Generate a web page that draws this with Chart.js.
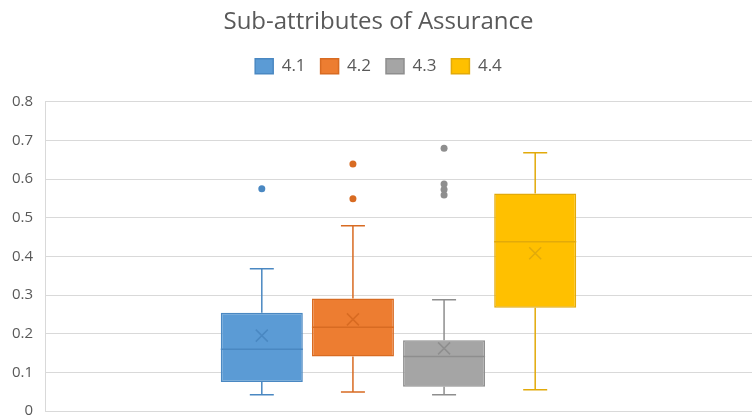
<!DOCTYPE html>
<html>
<head>
<meta charset="utf-8">
<script src="https://cdn.jsdelivr.net/npm/chart.js@4"></script>
<style>
  html, body { margin: 0; padding: 0; background: #fff; }
  #wrap { width: 754px; height: 419px; }
</style>
</head>
<body>
<div id="wrap"><canvas id="box-chart"></canvas></div>
<script>
// data
const categories = [''];
const seriesNames = ['4.1', '4.2', '4.3', '4.4'];
const minVals = [0.042, 0.049, 0.042, 0.055];
const q1Vals = [0.075, 0.141, 0.063, 0.267];
const medianVals = [0.160, 0.217, 0.141, 0.438];
const q3Vals = [0.254, 0.291, 0.183, 0.563];
const maxVals = [0.368, 0.479, 0.288, 0.668];
const meanVals = [0.195, 0.237, 0.162, 0.408];
const outlierVals = [[0.575], [0.639, 0.549], [0.680, 0.587, 0.573, 0.559], []];
const yTicks = [0, 0.1, 0.2, 0.3, 0.4, 0.5, 0.6, 0.7, 0.8];

const fills = ['#5B9BD5', '#ED7D31', '#A5A5A5', '#FFC000'];
const lines = ['#4A88C2', '#D86B22', '#8E8E8E', '#E2AA0A'];

// whiskers, median, mean and outliers drawn on top of the floating bars
const boxExtras = {
  id: 'boxExtras',
  afterDatasetsDraw(chart) {
    const ctx = chart.ctx;
    const y = chart.scales.y;
    chart.data.datasets.forEach((ds, i) => {
      const bar = chart.getDatasetMeta(i).data[0];
      if (!bar) return;
      const x = bar.x, half = bar.width / 2;
      const cap = 12;
      ctx.save();
      ctx.strokeStyle = lines[i];
      ctx.lineWidth = 1.5;
      ctx.beginPath();
      // upper whisker
      ctx.moveTo(x, y.getPixelForValue(q3Vals[i]));
      ctx.lineTo(x, y.getPixelForValue(maxVals[i]));
      ctx.moveTo(x - cap, y.getPixelForValue(maxVals[i]));
      ctx.lineTo(x + cap, y.getPixelForValue(maxVals[i]));
      // lower whisker
      ctx.moveTo(x, y.getPixelForValue(q1Vals[i]));
      ctx.lineTo(x, y.getPixelForValue(minVals[i]));
      ctx.moveTo(x - cap, y.getPixelForValue(minVals[i]));
      ctx.lineTo(x + cap, y.getPixelForValue(minVals[i]));
      // median
      ctx.moveTo(x - half, y.getPixelForValue(medianVals[i]));
      ctx.lineTo(x + half, y.getPixelForValue(medianVals[i]));
      ctx.stroke();
      // mean marker
      const my = y.getPixelForValue(meanVals[i]);
      ctx.beginPath();
      ctx.moveTo(x - 6, my - 6);
      ctx.lineTo(x + 6, my + 6);
      ctx.moveTo(x + 6, my - 6);
      ctx.lineTo(x - 6, my + 6);
      ctx.stroke();
      // outliers
      ctx.fillStyle = lines[i];
      outlierVals[i].forEach(v => {
        ctx.beginPath();
        ctx.arc(x, y.getPixelForValue(v), 3.5, 0, Math.PI * 2);
        ctx.fill();
      });
      ctx.restore();
    });
  }
};

// a bit more room under the legend
const legendGap = {
  id: 'legendGap',
  beforeInit(chart) {
    const fit = chart.legend.fit;
    chart.legend.fit = function () {
      fit.call(this);
      this.height += 17;
    };
  }
};

const datasets = seriesNames.map((name, i) => ({
  label: name,
  data: [[q1Vals[i], q3Vals[i]]],
  backgroundColor: fills[i],
  borderColor: lines[i],
  borderWidth: 1.5,
  borderSkipped: false
}));

new Chart(document.getElementById('box-chart').getContext('2d'), {
  type: 'bar',
  data: { labels: categories, datasets: datasets },
  plugins: [boxExtras, legendGap],
  options: {
    responsive: true,
    maintainAspectRatio: false,
    animation: false,
    layout: { padding: { left: 5, right: 2, top: 4, bottom: 0 } },
    datasets: { bar: { categoryPercentage: 0.5156, barPercentage: 0.9 } },
    plugins: {
      tooltip: { enabled: false },
      title: {
        display: true,
        text: 'Sub-attributes of Assurance',
        color: '#595959',
        font: { family: '"Open Sans", sans-serif', size: 24, weight: 'normal' },
        padding: { top: 4, bottom: 6 }
      },
      legend: {
        position: 'top',
        labels: {
          color: '#595959',
          boxWidth: 18,
          boxHeight: 15,
          padding: 15,
          font: { family: '"Open Sans", sans-serif', size: 17 }
        }
      }
    },
    scales: {
      x: { display: false },
      y: {
        min: 0,
        max: 0.8,
        afterBuildTicks(axis) { axis.ticks = yTicks.map(v => ({ value: v })); },
        afterFit(axis) {
          axis.width = 40;
          axis.paddingBottom = 8;
        },
        ticks: {
          color: '#595959',
          padding: 12,
          font: { family: '"Open Sans", sans-serif', size: 15 },
          callback: v => String(+v.toFixed(1))
        },
        grid: { color: '#D9D9D9', lineWidth: 1, drawTicks: false },
        border: { color: '#D9D9D9' }
      }
    }
  }
});
</script>
</body>
</html>
